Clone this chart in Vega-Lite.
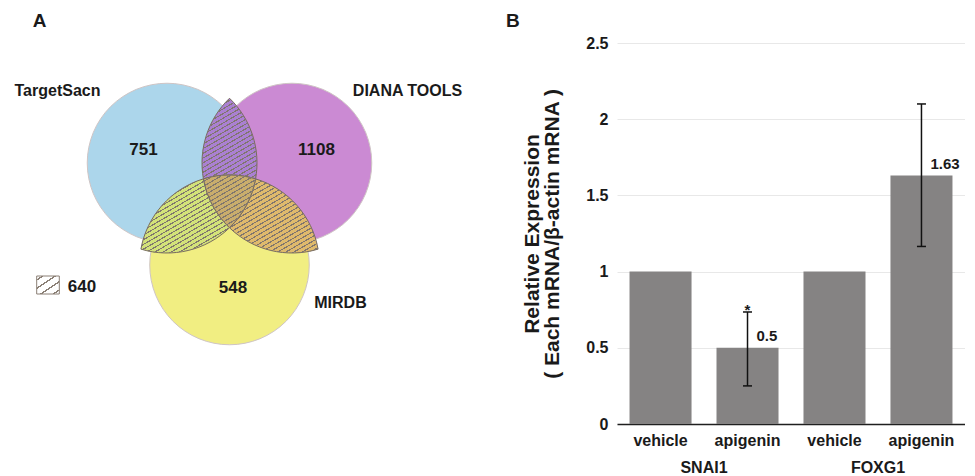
{
  "$schema": "https://vega.github.io/schema/vega-lite/v6.json",
  "padding": {"left": 0, "top": 12, "right": 0, "bottom": 0},
  "bounds": "flush",
  "spacing": 137,
  "config": {"view": {"stroke": null}, "font": "Liberation Sans"},
  "datasets": {
    "circles": [
      {"key": "TargetSacn", "x": -62.5, "y": 34},
      {"key": "DIANA TOOLS", "x": 62.5, "y": 34},
      {"key": "MIRDB", "x": 0, "y": -68}
    ],
    "regions": [
      {"key": "AB", "x": 0, "y": 0},
      {"key": "AC", "x": 0, "y": 0},
      {"key": "BC", "x": 0, "y": 0},
      {"key": "ABC", "x": 0, "y": 0}
    ],
    "hatch": [{"key": "shared", "x": 0, "y": 0}],
    "vennLabels": [
      {"text": "TargetSacn", "kind": "set", "x": -172, "y": 105.6},
      {"text": "DIANA TOOLS", "kind": "set", "x": 178, "y": 105.6},
      {"text": "MIRDB", "kind": "set", "x": 111, "y": -106.4},
      {"text": "751", "kind": "count", "x": -86, "y": 46.6},
      {"text": "1108", "kind": "count", "x": 87, "y": 46.6},
      {"text": "548", "kind": "count", "x": 3.5, "y": -90.9},
      {"text": "640", "kind": "count", "x": -147.5, "y": -89.6},
      {"text": "A", "kind": "panel", "x": -190, "y": 170}
    ],
    "legendBox": [{"x": -192.8, "x2": -170.2, "y": -79, "y2": -97}],
    "expr": [
      {"key": "SNAI1 vehicle", "gene": "SNAI1", "value": 1},
      {"key": "SNAI1 apigenin", "gene": "SNAI1", "value": 0.5, "lo": 0.25, "hi": 0.735, "label": "0.5", "sig": "*"},
      {"key": "FOXG1 vehicle", "gene": "FOXG1", "value": 1},
      {"key": "FOXG1 apigenin", "gene": "FOXG1", "value": 1.63, "lo": 1.165, "hi": 2.1, "label": "1.63"}
    ]
  },
  "hconcat": [
    {
      "width": 480,
      "height": 433,
      "layer": [
        {
          "data": {"name": "circles"},
          "mark": {"type": "point", "shape": "circle", "filled": true, "size": 25447, "opacity": 1, "stroke": "#cfc5c5", "strokeWidth": 1, "strokeOpacity": 1},
          "encoding": {
            "x": {"field": "x", "type": "quantitative", "scale": {"domain": [-229.5, 250.5], "nice": false, "zero": false}, "axis": null},
            "y": {"field": "y", "type": "quantitative", "scale": {"domain": [-279, 154], "nice": false, "zero": false}, "axis": null},
            "fill": {"field": "key", "type": "nominal", "scale": {"domain": ["TargetSacn", "DIANA TOOLS", "MIRDB", "AB", "AC", "BC", "ABC"], "range": ["#acd6eb", "#cb8ad3", "#f1ee82", "#aa80d2", "#d3e279", "#dfba6c", "#c9ad6c"]}, "legend": null}
          }
        },
        {
          "data": {"name": "regions"},
          "mark": {"type": "point", "filled": true, "size": 4, "opacity": 1, "stroke": "#766a5f", "strokeWidth": 1, "strokeOpacity": 1},
          "encoding": {
            "x": {"field": "x", "type": "quantitative"},
            "y": {"field": "y", "type": "quantitative"},
            "fill": {"field": "key", "type": "nominal", "legend": null},
            "shape": {"field": "key", "type": "nominal", "legend": null, "scale": {"domain": ["AB", "AC", "BC", "ABC"], "range": [
              "M0,-98.76 A90,90 0 0 1 26.09,-18.13 A90,90 0 0 0 -26.09,-18.13 A90,90 0 0 1 0,-98.76 Z",
              "M-88.59,52.13 A90,90 0 0 1 -26.09,-18.13 A90,90 0 0 0 0,30.76 A90,90 0 0 1 -88.59,52.13 Z",
              "M26.09,-18.13 A90,90 0 0 1 88.59,52.13 A90,90 0 0 1 0,30.76 A90,90 0 0 0 26.09,-18.13 Z",
              "M-26.09,-18.13 A90,90 0 0 1 26.09,-18.13 A90,90 0 0 1 0,30.76 A90,90 0 0 1 -26.09,-18.13 Z"
            ]}}
          }
        },
        {
          "data": {"name": "hatch"},
          "mark": {
            "type": "point", "filled": true, "size": 4, "opacity": 1, "strokeWidth": 0,
            "shape": "M0,-98.76 A90,90 0 0 1 26.09,-18.13 A90,90 0 0 1 88.59,52.13 A90,90 0 0 1 0,30.76 A90,90 0 0 1 -88.59,52.13 A90,90 0 0 1 -26.09,-18.13 A90,90 0 0 1 0,-98.76 Z",
            "fill": {"gradient": "linear", "x1": 0.2555, "y1": 0.1295, "x2": 0.8865, "y2": 1.0855, "stops": [
              {"offset": 0.0081, "color": "rgba(128,118,110,0)"}, {"offset": 0.0081, "color": "#80766e"}, {"offset": 0.0141, "color": "#80766e"}, {"offset": 0.0141, "color": "rgba(128,118,110,0)"},
              {"offset": 0.0303, "color": "rgba(128,118,110,0)"}, {"offset": 0.0303, "color": "#80766e"}, {"offset": 0.0363, "color": "#80766e"}, {"offset": 0.0363, "color": "rgba(128,118,110,0)"},
              {"offset": 0.0526, "color": "rgba(128,118,110,0)"}, {"offset": 0.0526, "color": "#80766e"}, {"offset": 0.0586, "color": "#80766e"}, {"offset": 0.0586, "color": "rgba(128,118,110,0)"},
              {"offset": 0.0748, "color": "rgba(128,118,110,0)"}, {"offset": 0.0748, "color": "#80766e"}, {"offset": 0.0808, "color": "#80766e"}, {"offset": 0.0808, "color": "rgba(128,118,110,0)"},
              {"offset": 0.0970, "color": "rgba(128,118,110,0)"}, {"offset": 0.0970, "color": "#80766e"}, {"offset": 0.1030, "color": "#80766e"}, {"offset": 0.1030, "color": "rgba(128,118,110,0)"},
              {"offset": 0.1192, "color": "rgba(128,118,110,0)"}, {"offset": 0.1192, "color": "#80766e"}, {"offset": 0.1252, "color": "#80766e"}, {"offset": 0.1252, "color": "rgba(128,118,110,0)"},
              {"offset": 0.1414, "color": "rgba(128,118,110,0)"}, {"offset": 0.1414, "color": "#80766e"}, {"offset": 0.1474, "color": "#80766e"}, {"offset": 0.1474, "color": "rgba(128,118,110,0)"},
              {"offset": 0.1637, "color": "rgba(128,118,110,0)"}, {"offset": 0.1637, "color": "#80766e"}, {"offset": 0.1697, "color": "#80766e"}, {"offset": 0.1697, "color": "rgba(128,118,110,0)"},
              {"offset": 0.1859, "color": "rgba(128,118,110,0)"}, {"offset": 0.1859, "color": "#80766e"}, {"offset": 0.1919, "color": "#80766e"}, {"offset": 0.1919, "color": "rgba(128,118,110,0)"},
              {"offset": 0.2081, "color": "rgba(128,118,110,0)"}, {"offset": 0.2081, "color": "#80766e"}, {"offset": 0.2141, "color": "#80766e"}, {"offset": 0.2141, "color": "rgba(128,118,110,0)"},
              {"offset": 0.2303, "color": "rgba(128,118,110,0)"}, {"offset": 0.2303, "color": "#80766e"}, {"offset": 0.2363, "color": "#80766e"}, {"offset": 0.2363, "color": "rgba(128,118,110,0)"},
              {"offset": 0.2526, "color": "rgba(128,118,110,0)"}, {"offset": 0.2526, "color": "#80766e"}, {"offset": 0.2586, "color": "#80766e"}, {"offset": 0.2586, "color": "rgba(128,118,110,0)"},
              {"offset": 0.2748, "color": "rgba(128,118,110,0)"}, {"offset": 0.2748, "color": "#80766e"}, {"offset": 0.2808, "color": "#80766e"}, {"offset": 0.2808, "color": "rgba(128,118,110,0)"},
              {"offset": 0.2970, "color": "rgba(128,118,110,0)"}, {"offset": 0.2970, "color": "#80766e"}, {"offset": 0.3030, "color": "#80766e"}, {"offset": 0.3030, "color": "rgba(128,118,110,0)"},
              {"offset": 0.3192, "color": "rgba(128,118,110,0)"}, {"offset": 0.3192, "color": "#80766e"}, {"offset": 0.3252, "color": "#80766e"}, {"offset": 0.3252, "color": "rgba(128,118,110,0)"},
              {"offset": 0.3414, "color": "rgba(128,118,110,0)"}, {"offset": 0.3414, "color": "#80766e"}, {"offset": 0.3474, "color": "#80766e"}, {"offset": 0.3474, "color": "rgba(128,118,110,0)"},
              {"offset": 0.3637, "color": "rgba(128,118,110,0)"}, {"offset": 0.3637, "color": "#80766e"}, {"offset": 0.3697, "color": "#80766e"}, {"offset": 0.3697, "color": "rgba(128,118,110,0)"},
              {"offset": 0.3859, "color": "rgba(128,118,110,0)"}, {"offset": 0.3859, "color": "#80766e"}, {"offset": 0.3919, "color": "#80766e"}, {"offset": 0.3919, "color": "rgba(128,118,110,0)"},
              {"offset": 0.4081, "color": "rgba(128,118,110,0)"}, {"offset": 0.4081, "color": "#80766e"}, {"offset": 0.4141, "color": "#80766e"}, {"offset": 0.4141, "color": "rgba(128,118,110,0)"},
              {"offset": 0.4303, "color": "rgba(128,118,110,0)"}, {"offset": 0.4303, "color": "#80766e"}, {"offset": 0.4363, "color": "#80766e"}, {"offset": 0.4363, "color": "rgba(128,118,110,0)"},
              {"offset": 0.4526, "color": "rgba(128,118,110,0)"}, {"offset": 0.4526, "color": "#80766e"}, {"offset": 0.4586, "color": "#80766e"}, {"offset": 0.4586, "color": "rgba(128,118,110,0)"},
              {"offset": 0.4748, "color": "rgba(128,118,110,0)"}, {"offset": 0.4748, "color": "#80766e"}, {"offset": 0.4808, "color": "#80766e"}, {"offset": 0.4808, "color": "rgba(128,118,110,0)"},
              {"offset": 0.4970, "color": "rgba(128,118,110,0)"}, {"offset": 0.4970, "color": "#80766e"}, {"offset": 0.5030, "color": "#80766e"}, {"offset": 0.5030, "color": "rgba(128,118,110,0)"},
              {"offset": 0.5192, "color": "rgba(128,118,110,0)"}, {"offset": 0.5192, "color": "#80766e"}, {"offset": 0.5252, "color": "#80766e"}, {"offset": 0.5252, "color": "rgba(128,118,110,0)"},
              {"offset": 0.5414, "color": "rgba(128,118,110,0)"}, {"offset": 0.5414, "color": "#80766e"}, {"offset": 0.5474, "color": "#80766e"}, {"offset": 0.5474, "color": "rgba(128,118,110,0)"},
              {"offset": 0.5637, "color": "rgba(128,118,110,0)"}, {"offset": 0.5637, "color": "#80766e"}, {"offset": 0.5697, "color": "#80766e"}, {"offset": 0.5697, "color": "rgba(128,118,110,0)"},
              {"offset": 0.5859, "color": "rgba(128,118,110,0)"}, {"offset": 0.5859, "color": "#80766e"}, {"offset": 0.5919, "color": "#80766e"}, {"offset": 0.5919, "color": "rgba(128,118,110,0)"},
              {"offset": 0.6081, "color": "rgba(128,118,110,0)"}, {"offset": 0.6081, "color": "#80766e"}, {"offset": 0.6141, "color": "#80766e"}, {"offset": 0.6141, "color": "rgba(128,118,110,0)"},
              {"offset": 0.6303, "color": "rgba(128,118,110,0)"}, {"offset": 0.6303, "color": "#80766e"}, {"offset": 0.6363, "color": "#80766e"}, {"offset": 0.6363, "color": "rgba(128,118,110,0)"},
              {"offset": 0.6526, "color": "rgba(128,118,110,0)"}, {"offset": 0.6526, "color": "#80766e"}, {"offset": 0.6586, "color": "#80766e"}, {"offset": 0.6586, "color": "rgba(128,118,110,0)"},
              {"offset": 0.6748, "color": "rgba(128,118,110,0)"}, {"offset": 0.6748, "color": "#80766e"}, {"offset": 0.6808, "color": "#80766e"}, {"offset": 0.6808, "color": "rgba(128,118,110,0)"},
              {"offset": 0.6970, "color": "rgba(128,118,110,0)"}, {"offset": 0.6970, "color": "#80766e"}, {"offset": 0.7030, "color": "#80766e"}, {"offset": 0.7030, "color": "rgba(128,118,110,0)"},
              {"offset": 0.7192, "color": "rgba(128,118,110,0)"}, {"offset": 0.7192, "color": "#80766e"}, {"offset": 0.7252, "color": "#80766e"}, {"offset": 0.7252, "color": "rgba(128,118,110,0)"},
              {"offset": 0.7414, "color": "rgba(128,118,110,0)"}, {"offset": 0.7414, "color": "#80766e"}, {"offset": 0.7474, "color": "#80766e"}, {"offset": 0.7474, "color": "rgba(128,118,110,0)"},
              {"offset": 0.7637, "color": "rgba(128,118,110,0)"}, {"offset": 0.7637, "color": "#80766e"}, {"offset": 0.7697, "color": "#80766e"}, {"offset": 0.7697, "color": "rgba(128,118,110,0)"},
              {"offset": 0.7859, "color": "rgba(128,118,110,0)"}, {"offset": 0.7859, "color": "#80766e"}, {"offset": 0.7919, "color": "#80766e"}, {"offset": 0.7919, "color": "rgba(128,118,110,0)"},
              {"offset": 0.8081, "color": "rgba(128,118,110,0)"}, {"offset": 0.8081, "color": "#80766e"}, {"offset": 0.8141, "color": "#80766e"}, {"offset": 0.8141, "color": "rgba(128,118,110,0)"},
              {"offset": 0.8303, "color": "rgba(128,118,110,0)"}, {"offset": 0.8303, "color": "#80766e"}, {"offset": 0.8363, "color": "#80766e"}, {"offset": 0.8363, "color": "rgba(128,118,110,0)"},
              {"offset": 0.8526, "color": "rgba(128,118,110,0)"}, {"offset": 0.8526, "color": "#80766e"}, {"offset": 0.8586, "color": "#80766e"}, {"offset": 0.8586, "color": "rgba(128,118,110,0)"},
              {"offset": 0.8748, "color": "rgba(128,118,110,0)"}, {"offset": 0.8748, "color": "#80766e"}, {"offset": 0.8808, "color": "#80766e"}, {"offset": 0.8808, "color": "rgba(128,118,110,0)"},
              {"offset": 0.8970, "color": "rgba(128,118,110,0)"}, {"offset": 0.8970, "color": "#80766e"}, {"offset": 0.9030, "color": "#80766e"}, {"offset": 0.9030, "color": "rgba(128,118,110,0)"},
              {"offset": 0.9192, "color": "rgba(128,118,110,0)"}, {"offset": 0.9192, "color": "#80766e"}, {"offset": 0.9252, "color": "#80766e"}, {"offset": 0.9252, "color": "rgba(128,118,110,0)"},
              {"offset": 0.9414, "color": "rgba(128,118,110,0)"}, {"offset": 0.9414, "color": "#80766e"}, {"offset": 0.9474, "color": "#80766e"}, {"offset": 0.9474, "color": "rgba(128,118,110,0)"},
              {"offset": 0.9637, "color": "rgba(128,118,110,0)"}, {"offset": 0.9637, "color": "#80766e"}, {"offset": 0.9697, "color": "#80766e"}, {"offset": 0.9697, "color": "rgba(128,118,110,0)"},
              {"offset": 0.9859, "color": "rgba(128,118,110,0)"}, {"offset": 0.9859, "color": "#80766e"}, {"offset": 0.9919, "color": "#80766e"}, {"offset": 0.9919, "color": "rgba(128,118,110,0)"}
            ]}
          },
          "encoding": {
            "x": {"field": "x", "type": "quantitative"},
            "y": {"field": "y", "type": "quantitative"}
          }
        },
        {
          "data": {"name": "legendBox"},
          "mark": {
            "type": "rect", "stroke": "#8a7f75", "strokeWidth": 1,
            "fill": {"gradient": "linear", "x1": 0, "y1": 0, "x2": 0.9, "y2": 1.085, "stops": [
              {"offset": 0, "color": "#ffffff"},
              {"offset": 0.1, "color": "#ffffff"}, {"offset": 0.1, "color": "#8a7f75"}, {"offset": 0.15, "color": "#8a7f75"}, {"offset": 0.15, "color": "#ffffff"},
              {"offset": 0.35, "color": "#ffffff"}, {"offset": 0.35, "color": "#8a7f75"}, {"offset": 0.4, "color": "#8a7f75"}, {"offset": 0.4, "color": "#ffffff"},
              {"offset": 0.6, "color": "#ffffff"}, {"offset": 0.6, "color": "#8a7f75"}, {"offset": 0.65, "color": "#8a7f75"}, {"offset": 0.65, "color": "#ffffff"},
              {"offset": 0.85, "color": "#ffffff"}, {"offset": 0.85, "color": "#8a7f75"}, {"offset": 0.9, "color": "#8a7f75"}, {"offset": 0.9, "color": "#ffffff"},
              {"offset": 1, "color": "#ffffff"}
            ]}
          },
          "encoding": {
            "x": {"field": "x", "type": "quantitative"},
            "x2": {"field": "x2"},
            "y": {"field": "y", "type": "quantitative"},
            "y2": {"field": "y2"}
          }
        },
        {
          "data": {"name": "vennLabels"},
          "transform": [{"filter": "datum.kind === 'set'"}],
          "mark": {"type": "text", "font": "Liberation Sans", "fontSize": 16, "fontWeight": "bold", "color": "#1a1a1a", "align": "center", "baseline": "middle"},
          "encoding": {
            "x": {"field": "x", "type": "quantitative"},
            "y": {"field": "y", "type": "quantitative"},
            "text": {"field": "text"}
          }
        },
        {
          "data": {"name": "vennLabels"},
          "transform": [{"filter": "datum.kind === 'count'"}],
          "mark": {"type": "text", "font": "Liberation Sans", "fontSize": 17, "fontWeight": "bold", "color": "#1a1a1a", "align": "center", "baseline": "middle"},
          "encoding": {
            "x": {"field": "x", "type": "quantitative"},
            "y": {"field": "y", "type": "quantitative"},
            "text": {"field": "text"}
          }
        },
        {
          "data": {"name": "vennLabels"},
          "transform": [{"filter": "datum.kind === 'panel'"}],
          "mark": {"type": "text", "font": "Liberation Sans", "fontSize": 19, "fontWeight": "bold", "color": "#1a1a1a", "align": "center", "baseline": "alphabetic"},
          "encoding": {
            "x": {"field": "x", "type": "quantitative"},
            "y": {"field": "y", "type": "quantitative"},
            "text": {"field": "text"}
          }
        }
      ]
    },
    {
      "width": 348,
      "height": 381,
      "data": {"name": "expr"},
      "title": {"text": "B", "anchor": "start", "frame": "group", "dx": -111, "offset": -11, "baseline": "alphabetic", "fontSize": 19, "fontWeight": "bold", "font": "Liberation Sans", "color": "#1a1a1a"},
      "layer": [
        {
          "layer": [
            {
              "mark": {"type": "bar", "color": "#858383"},
              "encoding": {
                "x": {"field": "key", "type": "nominal", "sort": ["SNAI1 vehicle", "SNAI1 apigenin", "FOXG1 vehicle", "FOXG1 apigenin"],
                  "scale": {"paddingInner": 0.287, "paddingOuter": 0.144},
                  "axis": {"title": null, "labelExpr": "split(datum.label, ' ')[1]", "labelAngle": 0, "domain": true, "domainColor": "#1f1f1f", "domainWidth": 1.5, "ticks": false, "tickSize": 0, "labelPadding": 8, "labelFont": "Liberation Sans", "labelFontSize": 16, "labelFontWeight": "bold", "labelColor": "#1a1a1a", "grid": false}},
                "y": {"field": "value", "type": "quantitative", "scale": {"domain": [0, 2.5], "nice": false},
                  "axis": {"title": ["Relative Expression", "( Each mRNA/β-actin mRNA )"], "values": [0, 0.5, 1, 1.5, 2, 2.5], "format": "~g", "domain": false, "ticks": false, "tickSize": 0, "grid": true, "gridColor": "#e8e8e8", "gridWidth": 1, "labelFont": "Liberation Sans", "labelFontSize": 16, "labelFontWeight": "bold", "labelColor": "#1a1a1a", "labelPadding": 9, "titleFont": "Liberation Sans", "titleFontSize": 21, "titleFontWeight": "bold", "titleColor": "#1a1a1a", "titleLineHeight": 20, "titlePadding": 23}}
              }
            },
            {
              "mark": {"type": "rule", "color": "#111111", "strokeWidth": 1.5},
              "encoding": {
                "x": {"field": "key", "type": "nominal", "sort": ["SNAI1 vehicle", "SNAI1 apigenin", "FOXG1 vehicle", "FOXG1 apigenin"]},
                "y": {"field": "lo", "type": "quantitative"},
                "y2": {"field": "hi"}
              }
            },
            {
              "mark": {"type": "tick", "color": "#111111", "size": 9, "thickness": 1.5, "opacity": 1},
              "encoding": {
                "x": {"field": "key", "type": "nominal", "sort": ["SNAI1 vehicle", "SNAI1 apigenin", "FOXG1 vehicle", "FOXG1 apigenin"]},
                "y": {"field": "lo", "type": "quantitative"}
              }
            },
            {
              "mark": {"type": "tick", "color": "#111111", "size": 9, "thickness": 1.5, "opacity": 1},
              "encoding": {
                "x": {"field": "key", "type": "nominal", "sort": ["SNAI1 vehicle", "SNAI1 apigenin", "FOXG1 vehicle", "FOXG1 apigenin"]},
                "y": {"field": "hi", "type": "quantitative"}
              }
            },
            {
              "transform": [{"filter": "datum.label"}],
              "mark": {"type": "text", "font": "Liberation Sans", "fontSize": 15, "fontWeight": "bold", "color": "#1a1a1a", "align": "left", "baseline": "alphabetic", "dx": 9, "dy": -7},
              "encoding": {
                "x": {"field": "key", "type": "nominal", "sort": ["SNAI1 vehicle", "SNAI1 apigenin", "FOXG1 vehicle", "FOXG1 apigenin"]},
                "y": {"field": "value", "type": "quantitative"},
                "text": {"field": "label"}
              }
            },
            {
              "transform": [{"filter": "datum.sig"}],
              "mark": {"type": "text", "font": "Liberation Sans", "fontSize": 15, "fontWeight": "bold", "color": "#1a1a1a", "align": "center", "baseline": "alphabetic", "dy": 3.5},
              "encoding": {
                "x": {"field": "key", "type": "nominal", "sort": ["SNAI1 vehicle", "SNAI1 apigenin", "FOXG1 vehicle", "FOXG1 apigenin"]},
                "y": {"field": "hi", "type": "quantitative"},
                "text": {"field": "sig"}
              }
            }
          ]
        },
        {
          "mark": {"type": "point", "opacity": 0},
          "encoding": {
            "x": {"field": "gene", "type": "nominal", "sort": ["SNAI1", "FOXG1"], "scale": {"type": "band", "paddingInner": 0, "paddingOuter": 0},
              "axis": {"orient": "bottom", "offset": 28, "title": null, "domain": false, "ticks": false, "tickSize": 0, "labelPadding": 7, "labelAngle": 0, "labelFont": "Liberation Sans", "labelFontSize": 16, "labelFontWeight": "bold", "labelColor": "#1a1a1a", "grid": false}},
            "y": {"field": "value", "type": "quantitative"}
          }
        }
      ],
      "resolve": {"scale": {"x": "independent"}, "axis": {"x": "independent"}}
    }
  ]
}
